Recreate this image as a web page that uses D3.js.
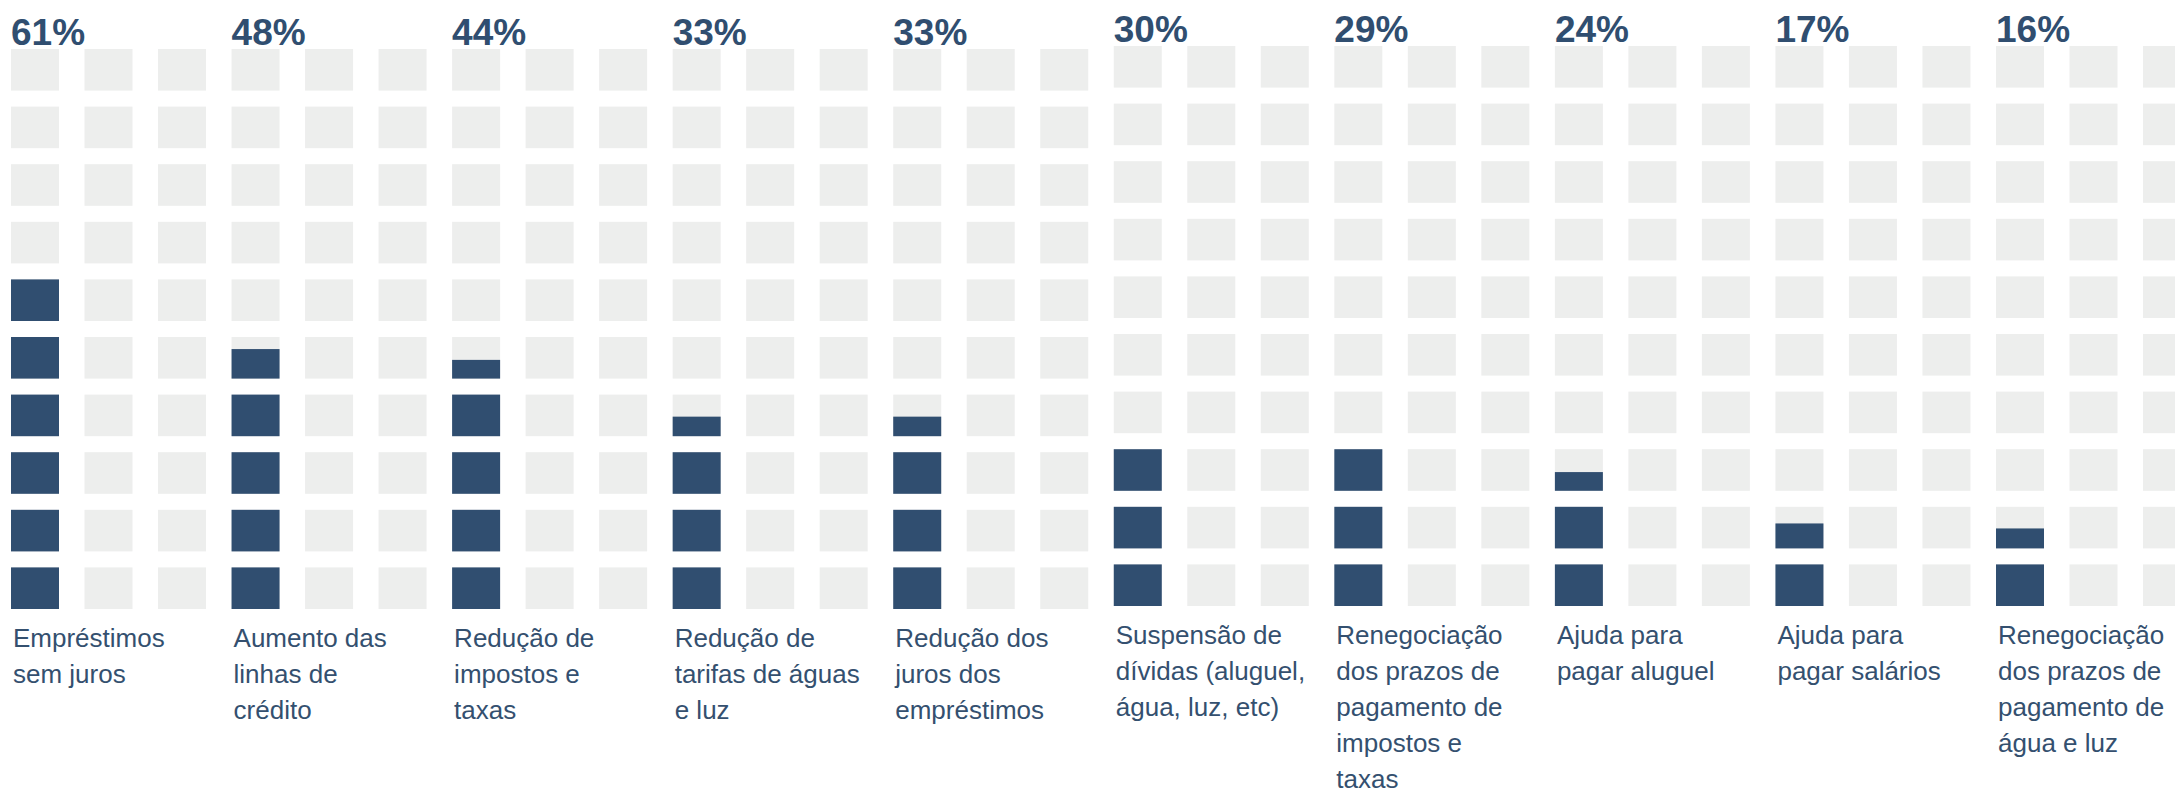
<!DOCTYPE html>
<html>
<head>
<meta charset="utf-8">
<title>Medidas de apoio</title>
<script src="https://d3js.org/d3.v7.min.js"></script>
<style>
    body { margin: 0; background: #fff; }
    svg { display: block; font-family: "Liberation Sans", Arial, Helvetica, sans-serif; }
</style>
</head>
<body>
<svg width="2175" height="795"></svg>
<script>
    // categories (line breaks as in the picture)
    var categories = [
        ["Empréstimos", "sem juros"],
        ["Aumento das", "linhas de", "crédito"],
        ["Redução de", "impostos e", "taxas"],
        ["Redução de", "tarifas de águas", "e luz"],
        ["Redução dos", "juros dos", "empréstimos"],
        ["Suspensão de", "dívidas (aluguel,", "água, luz, etc)"],
        ["Renegociação", "dos prazos de", "pagamento de", "impostos e", "taxas"],
        ["Ajuda para", "pagar aluguel"],
        ["Ajuda para", "pagar salários"],
        ["Renegociação", "dos prazos de", "pagamento de", "água e luz"]
    ];
    var values = [61, 48, 44, 33, 33, 30, 29, 24, 17, 16];
    // squares filled in the first column, as drawn (1 square = 10%)
    var filled = [6, 4.71, 4.45, 3.47, 3.47, 3, 3, 2.45, 1.6, 1.48];

    var nRows = 10, nCols = 3;
    var dark = "#304e70", grey = "#edeeed", textColor = "#34506f";

    var svg = d3.select("svg");

    // panel positions
    var x = d3.scalePoint().domain(d3.range(categories.length)).range([11, 1996]);
    var col = d3.scaleBand().domain(d3.range(nCols)).range([0, 195]).paddingInner(0.347);
    var row = d3.scaleBand().domain(d3.range(nRows)).range([609, 49]).paddingInner(0.278);
    var fillH = d3.scaleLinear().domain([0, 1]).range([0, row.bandwidth()]);

    // the right half of the picture sits a few px higher
    function shift(i) { return i < 5 ? 0 : -3; }

    var cells = d3.cross(d3.range(nCols), d3.range(nRows));

    var panel = svg.selectAll("g.panel")
        .data(categories)
        .enter().append("g")
        .attr("class", "panel")
        .attr("transform", function(d, i) { return "translate(" + x(i) + "," + shift(i) + ")"; });

    // background squares
    panel.selectAll("rect.bg")
        .data(cells)
        .enter().append("rect")
        .attr("class", "bg")
        .attr("x", function(d) { return col(d[0]); })
        .attr("y", function(d) { return row(d[1]); })
        .attr("width", col.bandwidth())
        .attr("height", row.bandwidth())
        .attr("fill", grey);

    // filled squares, bottom-up in the first column
    panel.each(function(d, i) {
        var parts = d3.range(nRows).map(function(r) {
            return { r: r, f: Math.max(0, Math.min(1, filled[i] - r)) };
        }).filter(function(p) { return p.f > 0; });

        d3.select(this).selectAll("rect.fill")
            .data(parts)
            .enter().append("rect")
            .attr("class", "fill")
            .attr("x", col(0))
            .attr("y", function(p) { return row(p.r) + row.bandwidth() - fillH(p.f); })
            .attr("width", col.bandwidth())
            .attr("height", function(p) { return fillH(p.f); })
            .attr("fill", dark);
    });

    // percentage labels
    panel.append("text")
        .attr("x", 0)
        .attr("y", 45)
        .attr("fill", dark)
        .style("font-size", "37px")
        .style("font-weight", "bold")
        .text(function(d, i) { return values[i] + "%"; });

    // category labels
    panel.append("text")
        .attr("fill", textColor)
        .style("font-size", "26px")
        .selectAll("tspan")
        .data(function(d) { return d; })
        .enter().append("tspan")
        .attr("x", 2)
        .attr("y", function(d, j) { return 647 + j * 36; })
        .text(function(d) { return d; });
</script>
</body>
</html>
